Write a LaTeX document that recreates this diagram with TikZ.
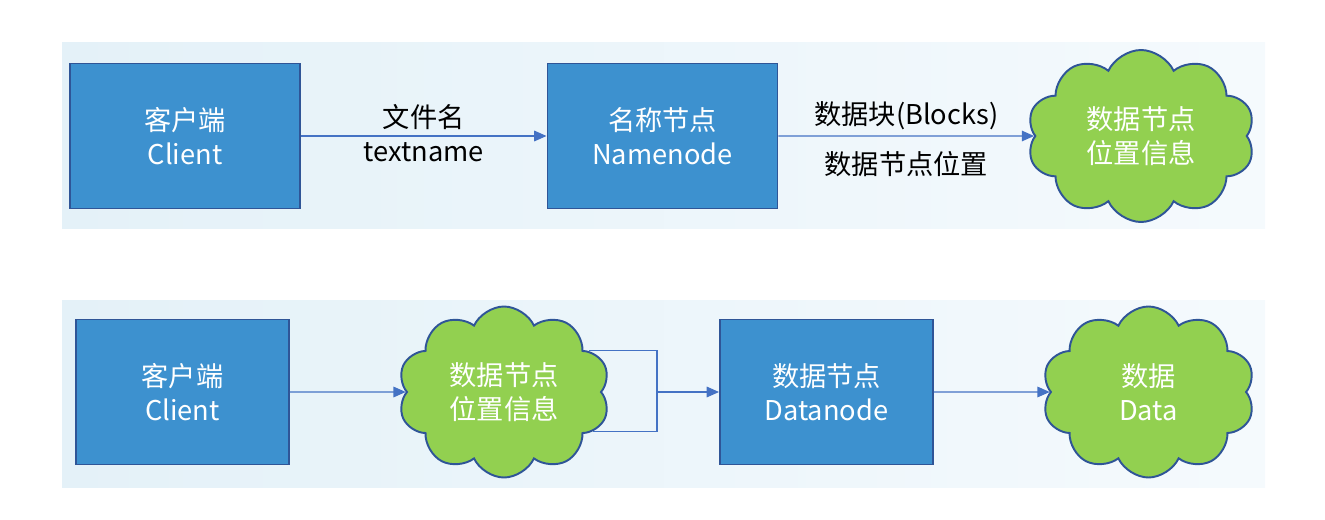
\documentclass[tikz,border=0pt]{standalone}
\usepackage{fontspec}
\setmainfont{Noto Sans CJK SC}
\usepackage{tikz}
\usetikzlibrary{arrows.meta,shapes.symbols}
\usepackage{xcolor}

\definecolor{boxblue}{HTML}{3D91CF}
\definecolor{edgeblue}{HTML}{2F5597}
\definecolor{linkblue}{HTML}{4472C4}
\definecolor{cloudgreen}{HTML}{92D050}
\definecolor{bandleft}{HTML}{E4F1F8}
\definecolor{bandright}{HTML}{F5FAFD}

\begin{document}
\begin{tikzpicture}[
    >={Triangle[length=7pt,width=6pt]},
    font=\fontsize{15.5}{19.5}\selectfont,
    bloc/.style={draw=edgeblue, line width=1.1pt, fill=boxblue, text=white,
        align=center, minimum width=4.6cm, minimum height=2.9cm},
    nuvol/.style={cloud, cloud puffs=10, cloud puff arc=130, aspect=1.3,
        draw=edgeblue, line width=1.1pt, fill=cloudgreen, text=white,
        align=center, inner sep=0pt},
    link/.style={line width=0.8pt, draw=linkblue},
    franja/.style={left color=bandleft, right color=bandright, draw=none}
]

\useasboundingbox (0,0) rectangle (26.5,10.38);

% Franges de fons
\path[franja] (1.24,5.82) rectangle (25.3,9.54);
\path[franja] (1.24,0.64) rectangle (25.3,4.38);

% Fila superior
\node[bloc] (client) at (3.7,7.66) {客户端\\Client};
\node[bloc] (namenode) at (13.25,7.66) {名称节点\\Namenode};
\node[nuvol, minimum width=4.56cm, minimum height=3.44cm] (posicio)
    at (22.82,7.66) {数据节点\\位置信息};

\draw[
    ->,
    link
] (client) -- (namenode)
    node[midway, above] {文件名}
    node[midway, below] {textname};

\draw[
    ->,
    link
] (namenode) -- (posicio)
    node[midway, above] {数据块(Blocks)}
    node[midway, below, yshift=-5pt] {数据节点位置};

% Fila inferior
\node[bloc, minimum width=4.26cm] (client2) at (3.65,2.54) {客户端\\Client};
\node[nuvol, minimum width=4.24cm, minimum height=3.42cm] (posicio2)
    at (10.08,2.54) {数据节点\\位置信息};
\node[bloc, minimum width=4.26cm] (datanode) at (16.53,2.54) {数据节点\\Datanode};
\node[nuvol, minimum width=4.26cm, minimum height=3.42cm] (dades)
    at (22.97,2.54) {数据\\Data};
\coordinate (unio) at (13.14,2.54);

\draw[->, link] (client2) -- (posicio2);

% Claudator
\draw[link] (posicio2.26) -| (unio);
\draw[link] (posicio2.-24) -| (unio);
\draw[->, link] (unio) -- (datanode);

\draw[->, link] (datanode) -- (dades);

\end{tikzpicture}
\end{document}
